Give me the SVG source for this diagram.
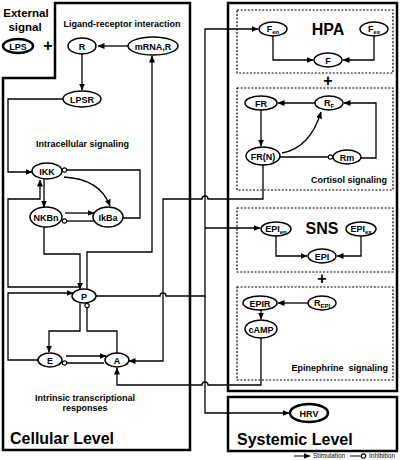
<svg xmlns="http://www.w3.org/2000/svg" width="401" height="460" viewBox="0 0 401 460">
<style>
.box{fill:none;stroke:#000;stroke-width:2.5}
.dash{fill:none;stroke:#000;stroke-width:1.2;stroke-dasharray:2,1.6}
.n{fill:#fff;stroke:#000;stroke-width:1.5}
.nt{fill:#fff;stroke:#000;stroke-width:2.5}
.c{fill:none;stroke:#000;stroke-width:1.3}
.s{marker-end:url(#arr)}
.i{marker-end:url(#inh)}
text{font-family:"Liberation Sans",Arial,sans-serif;font-weight:bold;fill:#000}
.l{font-size:9px;text-anchor:middle}
.sub{font-size:6px}
.h{font-size:9px;text-anchor:middle}
.big{font-size:16px}
.plus{font-size:16px;text-anchor:middle}
.leg{font-size:6.5px;font-weight:normal}
</style>
<defs>
<marker id="arr" markerUnits="userSpaceOnUse" markerWidth="7" markerHeight="7" refX="6.5" refY="3.5" orient="auto">
<path d="M0,0.5 L7,3.5 L0,6.5 z" fill="#000"/>
</marker>
<marker id="inh" markerUnits="userSpaceOnUse" markerWidth="7" markerHeight="7" refX="5.5" refY="3.5" orient="auto">
<circle cx="3" cy="3.5" r="2.2" fill="#fff" stroke="#000" stroke-width="1.2"/>
</marker>
</defs>

<g id="frames">
<path class="box" d="M55,3 H190 V450 H3 V78 H55 Z"/>
<rect class="box" x="228" y="3" width="169" height="388"/>
<rect class="box" x="228" y="397" width="169" height="54"/>
<rect class="dash" x="237" y="10" width="156" height="63"/>
<rect class="dash" x="237" y="88" width="156" height="102"/>
<rect class="dash" x="237" y="208" width="156" height="64"/>
<rect class="dash" x="237" y="287" width="156" height="93"/>
</g>

<g id="labels">
<text class="h" x="26" y="16.5" style="font-size:11.5px">External</text>
<text class="h" x="25" y="30.5" style="font-size:11.5px">signal</text>
<text class="plus" x="48" y="51">+</text>
<text class="h" x="122" y="27">Ligand-receptor interaction</text>
<text class="h" x="82.5" y="147">Intracellular signaling</text>
<text class="h" x="85" y="400.5">Intrinsic transcriptional</text>
<text class="h" x="85" y="411">responses</text>
<text class="big" x="10" y="444">Cellular Level</text>
<text class="big" x="237" y="445">Systemic Level</text>
<text class="big" x="328" y="35" text-anchor="middle">HPA</text>
<text class="big" x="322" y="234" text-anchor="middle">SNS</text>
<text class="plus" x="328" y="86">+</text>
<text class="plus" x="322" y="284">+</text>
<text class="h" x="387" y="183" text-anchor="end" style="text-anchor:end">Cortisol signaling</text>
<text class="h" x="388" y="371" style="text-anchor:end;white-space:pre" xml:space="preserve">Epinephrine  signaling</text>
</g>

<g id="connectors">
<path class="c s" d="M128,46 H98"/>
<path class="c s" d="M82,54 V90"/>
<path class="c s" d="M63,99 H8 V172 H32"/>
<path class="c s" d="M87,289 V252 H152 V56"/>
<path class="c s" d="M44,227 V254 H80 V289"/>
<path class="c s" d="M80,287 H8 V199 H40 V180"/>
<path class="c s" d="M38,360 H8 V293 H73"/>
<path class="c s" d="M44,179 V207"/>
<path class="c i" d="M123,218 H140 V170 H62"/>
<path class="c s" d="M64,177 Q100,179 110,206"/>
<path class="c s" d="M65,213 H94"/>
<path class="c i" d="M94,221 H62"/>
<path class="c s" d="M80,303 V331 H49 V352"/>
<path class="c i" d="M117,353 V331 H87 V303"/>
<path class="c s" d="M66,356 H106"/>
<path class="c i" d="M104,363 H62"/>
<path class="c s" d="M263,165 V199 H208 A3,3 0 0 0 202,199 H163 V361 H129"/>
<path class="c s" d="M96,296 H160 A3,3 0 0 1 166,296 H205 V29 H258"/>
<path class="c s" d="M205,296 V413 H289"/>
<path class="c s" d="M205,228 H260"/>
<path class="c s" d="M261,338 V385 H208 A3,3 0 0 0 202,385 H117 V368"/>
<path class="c s" d="M273,36 V60 H313"/>
<path class="c s" d="M374,36 V60 H343"/>
<path class="c s" d="M315,103 H278"/>
<path class="c s" d="M361,158 H376 V103 H344"/>
<path class="c s" d="M261,110 V146"/>
<path class="c s" d="M282,153 Q310,148 321,112"/>
<path class="c i" d="M280,157 H333"/>
<path class="c s" d="M276,236 V256 H307"/>
<path class="c s" d="M361,236 V256 H337"/>
<path class="c s" d="M308,303 H278"/>
<path class="c s" d="M261,310 V319"/>
</g>

<g id="LPS"><ellipse class="nt" cx="18" cy="46" rx="15" ry="7"/><text class="l" x="18" y="49.5">LPS</text></g>
<g id="R"><ellipse class="n" cx="82" cy="46" rx="14" ry="8"/><text class="l" x="82" y="49.5">R</text></g>
<g id="mRNA_R"><ellipse class="n" cx="153" cy="46" rx="25" ry="9"/><text class="l" x="153" y="49.5">mRNA,R</text></g>
<g id="LPSR"><ellipse class="n" cx="82" cy="99" rx="19" ry="8"/><text class="l" x="82" y="102.5">LPSR</text></g>
<g id="IKK"><ellipse class="n" cx="47" cy="171" rx="15" ry="8"/><text class="l" x="47" y="174.5">IKK</text></g>
<g id="NKBn"><ellipse class="n" cx="46" cy="217" rx="16" ry="10"/><text class="l" x="46" y="220.5">NKBn</text></g>
<g id="IkBa"><ellipse class="n" cx="108" cy="217" rx="15" ry="10"/><text class="l" x="108" y="220.5">IkBa</text></g>
<g id="P"><ellipse class="n" cx="84" cy="296" rx="12" ry="7"/><text class="l" x="84" y="299.5">P</text></g>
<g id="E"><ellipse class="n" cx="50" cy="360" rx="12" ry="7"/><text class="l" x="50" y="363.5">E</text></g>
<g id="A"><ellipse class="n" cx="117" cy="360" rx="12" ry="7"/><text class="l" x="117" y="363.5">A</text></g>

<g id="Fen"><ellipse class="n" cx="273" cy="29" rx="14" ry="7"/><text class="l" x="273" y="32">F<tspan class="sub" dy="1.5">en</tspan></text></g>
<g id="Fex"><ellipse class="n" cx="374" cy="29" rx="14" ry="7"/><text class="l" x="374" y="32">F<tspan class="sub" dy="1.5">ex</tspan></text></g>
<g id="F"><ellipse class="n" cx="328" cy="60" rx="14" ry="7"/><text class="l" x="328" y="63.5">F</text></g>
<g id="FR"><ellipse class="n" cx="261" cy="103" rx="16" ry="7"/><text class="l" x="261" y="106.5">FR</text></g>
<g id="RF"><ellipse class="n" cx="329" cy="103" rx="14" ry="7"/><text class="l" x="329" y="106">R<tspan class="sub" dy="1.5">F</tspan></text></g>
<g id="FRN"><ellipse class="n" cx="263" cy="156" rx="17" ry="9"/><text class="l" x="263" y="159.5">FR(N)</text></g>
<g id="Rm"><ellipse class="n" cx="347" cy="157" rx="14" ry="7"/><text class="l" x="347" y="160.5">Rm</text></g>
<g id="EPIen"><ellipse class="n" cx="276" cy="229" rx="15" ry="7"/><text class="l" x="276" y="232">EPI<tspan class="sub" dy="1.5">en</tspan></text></g>
<g id="EPIex"><ellipse class="n" cx="361" cy="229" rx="15" ry="7"/><text class="l" x="361" y="232">EPI<tspan class="sub" dy="1.5">ex</tspan></text></g>
<g id="EPI"><ellipse class="n" cx="322" cy="256" rx="14" ry="7"/><text class="l" x="322" y="259.5">EPI</text></g>
<g id="EPIR"><ellipse class="n" cx="260" cy="303" rx="17" ry="7"/><text class="l" x="260" y="306.5">EPIR</text></g>
<g id="REPI"><ellipse class="n" cx="322" cy="303" rx="14" ry="7"/><text class="l" x="322" y="306">R<tspan class="sub" dy="1.5">EPI</tspan></text></g>
<g id="cAMP"><ellipse class="n" cx="261" cy="329" rx="16" ry="9"/><text class="l" x="261" y="332.5">cAMP</text></g>
<g id="HRV"><ellipse class="nt" cx="309" cy="413" rx="19" ry="9"/><text class="l" x="309" y="416.5">HRV</text></g>

<g id="legend">
<path class="c s" d="M294,456 H310" style="stroke-width:1"/>
<text class="leg" x="313" y="458.3">Stimulation</text>
<path class="c i" d="M350,456 H366" style="stroke-width:1"/>
<text class="leg" x="369" y="458.3">Inhibition</text>
</g>
</svg>
